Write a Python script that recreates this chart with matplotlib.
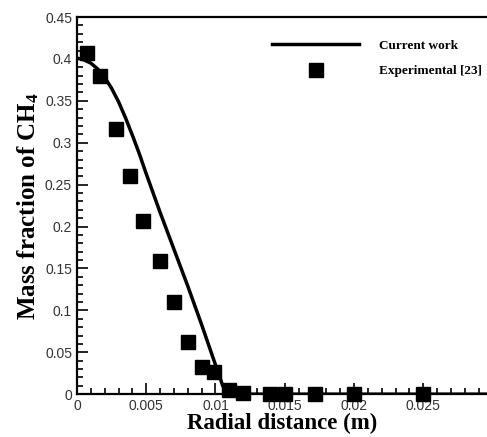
import numpy as np
import matplotlib
matplotlib.use('Agg')
import matplotlib.pyplot as plt
from matplotlib.ticker import MultipleLocator, FuncFormatter

# Current work (simulation curve)
r_sim = [0.0, 0.0005, 0.001, 0.0015, 0.002, 0.0025, 0.003, 0.0035, 0.004,
         0.0045, 0.005, 0.0055, 0.006, 0.0065, 0.007, 0.0075, 0.008, 0.0085,
         0.009, 0.0095, 0.010, 0.0103, 0.0105, 0.0107, 0.011, 0.015, 0.02,
         0.025, 0.03]
y_sim = [0.401, 0.399, 0.395, 0.388, 0.378, 0.365, 0.349, 0.330, 0.309,
         0.287, 0.263, 0.240, 0.217, 0.195, 0.173, 0.151, 0.129, 0.106,
         0.083, 0.059, 0.035, 0.021, 0.011, 0.004, 0.0, 0.0, 0.0,
         0.0, 0.0]

# Experimental [23]
r_exp = [0.0007, 0.0017, 0.0028, 0.0038, 0.0048, 0.0060, 0.0070, 0.0080,
         0.0090, 0.0099, 0.0110, 0.0120, 0.0139, 0.0150, 0.0172, 0.0200, 0.0250]
y_exp = [0.407, 0.380, 0.316, 0.260, 0.207, 0.159, 0.110, 0.062,
         0.033, 0.026, 0.005, 0.001, 0.0, 0.0, 0.0, 0.0, 0.0]

plt.rcParams['mathtext.fontset'] = 'custom'
plt.rcParams['mathtext.rm'] = 'Liberation Serif:bold'
plt.rcParams['mathtext.it'] = 'Liberation Serif:bold'

fig = plt.figure(figsize=(4.87, 4.37), dpi=100)
ax = fig.add_axes([0.158, 0.098, 0.842, 0.863])

ax.plot(r_sim, y_sim, color='black', lw=2.5, solid_joinstyle='round',
        label='Current work')
ax.plot(r_exp, y_exp, 's', color='black', ms=10.5, clip_on=False, zorder=5,
        label='Experimental [23]')

ax.set_xlim(0, 0.0296)
ax.set_ylim(0, 0.45)
ax.xaxis.set_major_locator(MultipleLocator(0.005))
ax.xaxis.set_minor_locator(MultipleLocator(0.001))
ax.yaxis.set_major_locator(MultipleLocator(0.05))
ax.yaxis.set_minor_locator(MultipleLocator(0.01))
fmt = FuncFormatter(lambda v, p: '%g' % round(v, 4))
ax.xaxis.set_major_formatter(fmt)
ax.yaxis.set_major_formatter(fmt)

ax.tick_params(which='both', direction='in', top=False, right=False,
               labelsize=10, labelcolor='#333333', width=1.2)
ax.tick_params(which='major', length=8)
ax.tick_params(which='minor', length=4)
for lab in ax.get_xticklabels() + ax.get_yticklabels():
    lab.set_family('Liberation Sans')

ax.spines['right'].set_visible(False)
for s in ['left', 'bottom', 'top']:
    ax.spines[s].set_linewidth(1.6)

ax.set_xlabel('Radial distance (m)', family='Liberation Serif',
              fontweight='bold', fontsize=16.5, labelpad=0)
ax.set_ylabel('Mass fraction of CH$_4$', family='Liberation Serif',
              fontweight='bold', fontsize=18, labelpad=3)

ax.legend(loc='upper left', bbox_to_anchor=(0.447, 0.972), frameon=False,
          prop={'family': 'Liberation Serif', 'weight': 'bold', 'size': 9.5},
          handlelength=6.6, handletextpad=1.5, labelspacing=1.0, numpoints=1,
          markerscale=0.9)

fig.savefig('out.png', dpi=100)
